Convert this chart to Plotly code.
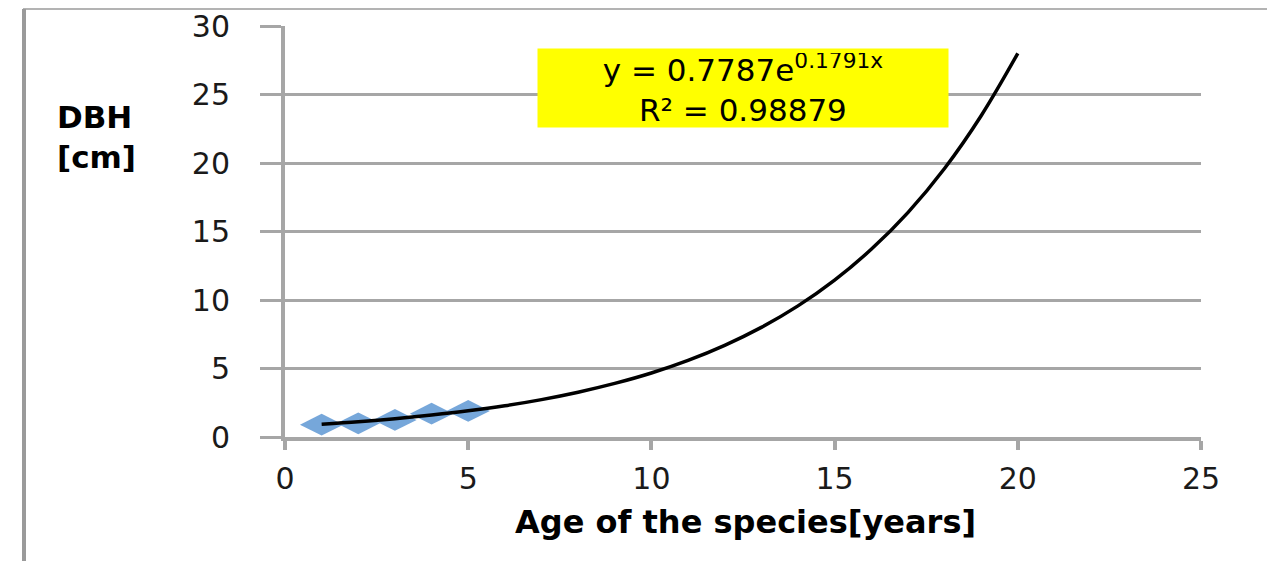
import plotly.graph_objects as go

# observed DBH by age
age = [1, 2, 3, 4, 5]
dbh = [0.9, 1.0, 1.25, 1.7, 1.9]

# exponential trendline at whole years
trend_age = list(range(1, 21))
trend_dbh = [0.93, 1.11, 1.33, 1.60, 1.91, 2.28, 2.73, 3.27, 3.91, 4.67,
             5.59, 6.69, 8.00, 9.57, 11.45, 13.70, 16.38, 19.60, 23.45, 28.0]

x_ticks = [0, 5, 10, 15, 20, 25]
y_ticks = [0, 5, 10, 15, 20, 25, 30]

grey = '#a6a6a6'
font_name = 'DejaVu Sans'

# plot area in page pixels (page has an 8px body margin)
X0, X1, Y0, Y1 = 285, 1201, 437, 26


def px(x):
    return (x - X0) / (X1 - X0)


def py(y):
    return (Y0 - y) / (Y0 - Y1)


fig = go.Figure()

fig.add_trace(go.Scatter(
    x=age, y=dbh,
    mode='markers',
    marker=dict(symbol='diamond-wide', size=31, color='#5f98d4',
                line=dict(width=0)),
    opacity=0.85
))

fig.add_trace(go.Scatter(
    x=trend_age, y=trend_dbh,
    mode='lines',
    line=dict(color='black', width=3.5, shape='spline')
))

fig.update_layout(
    width=1267, height=553,
    margin=dict(l=X0 - 8, r=1267 - (X1 - 8), t=Y1 - 8, b=553 - (Y0 - 8)),
    plot_bgcolor='white',
    paper_bgcolor='white',
    showlegend=False,
    font=dict(family=font_name, size=30, color='#1a1a1a'),
    xaxis=dict(
        range=[0, 25], tickvals=x_ticks, automargin=False,
        showgrid=False, zeroline=False,
        showline=True, linecolor=grey, linewidth=4,
        ticks='outside', ticklen=9, tickwidth=4, tickcolor=grey,
        ticklabelstandoff=3,
        tickfont=dict(size=30)
    ),
    yaxis=dict(
        range=[0, 30], tickvals=y_ticks, automargin=False,
        showgrid=True, gridcolor=grey, gridwidth=3,
        zeroline=False,
        showline=True, linecolor=grey, linewidth=4,
        ticks='outside', ticklen=21, tickwidth=3, tickcolor=grey,
        ticklabelstandoff=24,
        tickfont=dict(size=30)
    ),
)

# outer chart border
fig.add_shape(type='rect', xref='paper', yref='paper',
              x0=px(24), x1=px(1270), y0=py(600), y1=py(9),
              line=dict(color='#b3b3b3', width=2), layer='below')
fig.add_shape(type='line', xref='paper', yref='paper',
              x0=px(24), x1=px(24), y0=py(600), y1=py(9),
              line=dict(color='#9a9a9a', width=4), layer='below')

# equation box
fig.add_annotation(
    xref='paper', yref='paper',
    x=px(743), y=py(88), xanchor='center', yanchor='middle',
    text='y = 0.7787e<sup>0.1791x</sup><br>R² = 0.98879',
    showarrow=False, align='center',
    font=dict(family=font_name, size=31, color='black'),
    bgcolor='#ffff00', width=402, height=70, borderpad=4
)

# axis titles
fig.add_annotation(
    xref='paper', yref='paper',
    x=px(96), y=py(137), xanchor='center', yanchor='middle',
    text='<b>DBH<br>[cm]</b>', showarrow=False, align='left',
    font=dict(family=font_name, size=31, color='black')
)
fig.add_annotation(
    xref='paper', yref='paper',
    x=px(745), y=py(522), xanchor='center', yanchor='middle',
    text='<b>Age of the species[years]</b>', showarrow=False,
    font=dict(family=font_name, size=32, color='black')
)

fig.write_html("out.html")
